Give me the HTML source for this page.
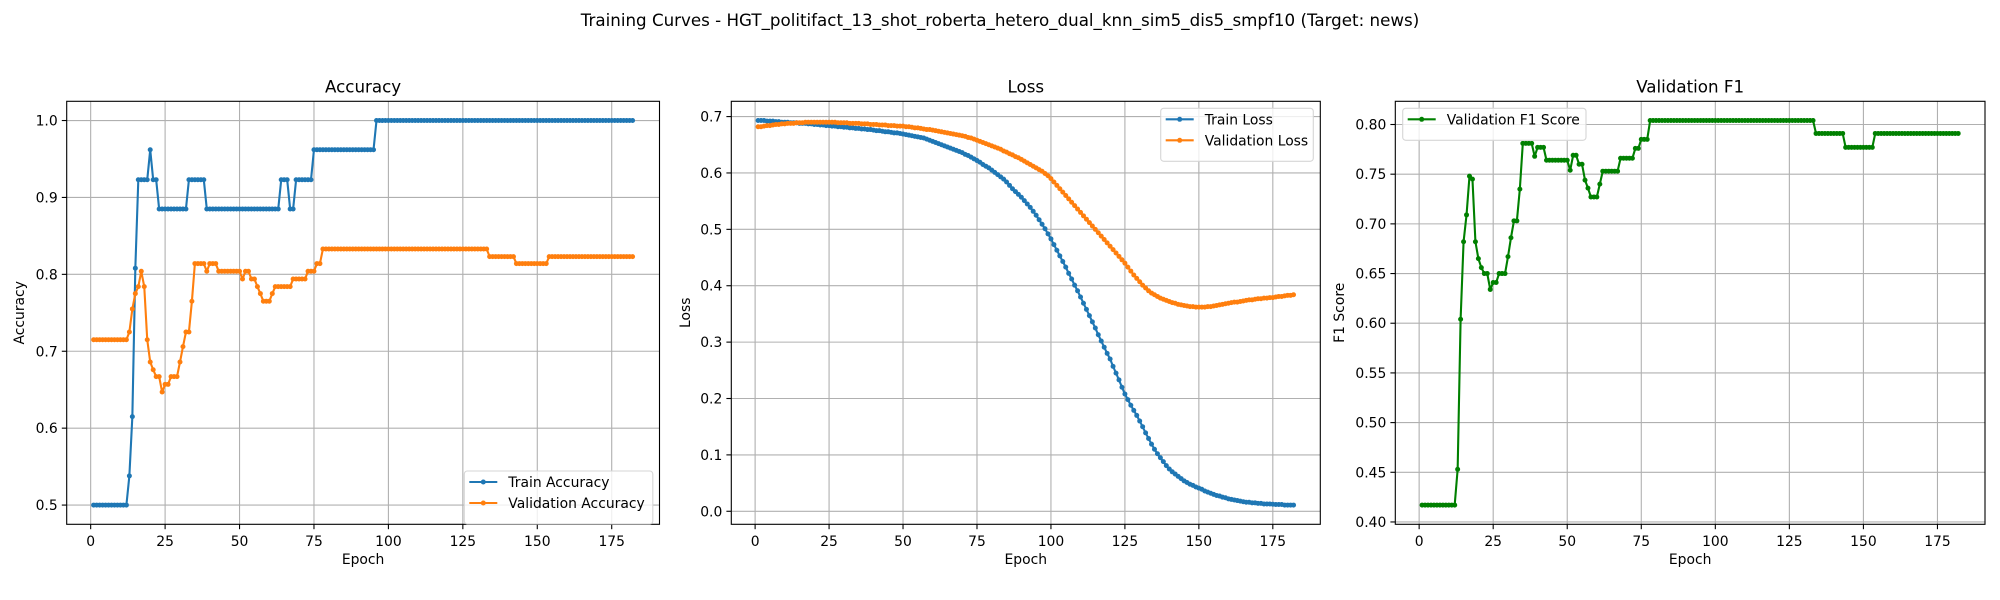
<!DOCTYPE html>
<html><head><meta charset="utf-8"><style>
html,body{margin:0;padding:0;background:#fff;}
svg{display:block;font-family:"DejaVu Sans","Liberation Sans",sans-serif;}
</style></head><body>
<svg id="fig" width="2000" height="600" viewBox="0 0 2000 600" xmlns="http://www.w3.org/2000/svg">
<rect width="2000" height="600" fill="#fff"/>
<text x="1000" y="26" text-anchor="middle" font-size="16.7">Training Curves - HGT_politifact_13_shot_roberta_hetero_dual_knn_sim5_dis5_smpf10 (Target: news)</text>
</svg>
<script>
const epochs = [];
for (let i = 1; i <= 182; i++) epochs.push(i);
const xTicks = [0, 25, 50, 75, 100, 125, 150, 175];

const trainAcc = [
0.5,0.5,0.5,0.5,0.5,0.5,0.5,0.5,0.5,0.5,
0.5,0.5,0.538,0.615,0.808,0.923,0.923,0.923,0.923,0.962,
0.923,0.923,0.885,0.885,0.885,0.885,0.885,0.885,0.885,0.885,
0.885,0.885,0.923,0.923,0.923,0.923,0.923,0.923,0.885,0.885,
0.885,0.885,0.885,0.885,0.885,0.885,0.885,0.885,0.885,0.885,
0.885,0.885,0.885,0.885,0.885,0.885,0.885,0.885,0.885,0.885,
0.885,0.885,0.885,0.923,0.923,0.923,0.885,0.885,0.923,0.923,
0.923,0.923,0.923,0.923,0.962,0.962,0.962,0.962,0.962,0.962,
0.962,0.962,0.962,0.962,0.962,0.962,0.962,0.962,0.962,0.962,
0.962,0.962,0.962,0.962,0.962,1.0,1.0,1.0,1.0,1.0,
1.0,1.0,1.0,1.0,1.0,1.0,1.0,1.0,1.0,1.0,
1.0,1.0,1.0,1.0,1.0,1.0,1.0,1.0,1.0,1.0,
1.0,1.0,1.0,1.0,1.0,1.0,1.0,1.0,1.0,1.0,
1.0,1.0,1.0,1.0,1.0,1.0,1.0,1.0,1.0,1.0,
1.0,1.0,1.0,1.0,1.0,1.0,1.0,1.0,1.0,1.0,
1.0,1.0,1.0,1.0,1.0,1.0,1.0,1.0,1.0,1.0,
1.0,1.0,1.0,1.0,1.0,1.0,1.0,1.0,1.0,1.0,
1.0,1.0,1.0,1.0,1.0,1.0,1.0,1.0,1.0,1.0,
1.0,1.0];
const valAcc = [
0.715,0.715,0.715,0.715,0.715,0.715,0.715,0.715,0.715,0.715,
0.715,0.715,0.725,0.755,0.775,0.784,0.804,0.784,0.715,0.686,
0.676,0.667,0.667,0.647,0.657,0.657,0.667,0.667,0.667,0.686,
0.706,0.725,0.725,0.765,0.814,0.814,0.814,0.814,0.804,0.814,
0.814,0.814,0.804,0.804,0.804,0.804,0.804,0.804,0.804,0.804,
0.794,0.804,0.804,0.794,0.794,0.784,0.775,0.765,0.765,0.765,
0.775,0.784,0.784,0.784,0.784,0.784,0.784,0.794,0.794,0.794,
0.794,0.794,0.804,0.804,0.804,0.814,0.814,0.833,0.833,0.833,
0.833,0.833,0.833,0.833,0.833,0.833,0.833,0.833,0.833,0.833,
0.833,0.833,0.833,0.833,0.833,0.833,0.833,0.833,0.833,0.833,
0.833,0.833,0.833,0.833,0.833,0.833,0.833,0.833,0.833,0.833,
0.833,0.833,0.833,0.833,0.833,0.833,0.833,0.833,0.833,0.833,
0.833,0.833,0.833,0.833,0.833,0.833,0.833,0.833,0.833,0.833,
0.833,0.833,0.833,0.823,0.823,0.823,0.823,0.823,0.823,0.823,
0.823,0.823,0.814,0.814,0.814,0.814,0.814,0.814,0.814,0.814,
0.814,0.814,0.814,0.823,0.823,0.823,0.823,0.823,0.823,0.823,
0.823,0.823,0.823,0.823,0.823,0.823,0.823,0.823,0.823,0.823,
0.823,0.823,0.823,0.823,0.823,0.823,0.823,0.823,0.823,0.823,
0.823,0.823];
const trainLoss = [
0.693,0.693,0.693,0.692,0.692,0.692,0.691,0.691,0.690,0.690,
0.690,0.689,0.689,0.689,0.688,0.688,0.688,0.687,0.687,0.686,
0.686,0.685,0.685,0.684,0.684,0.683,0.683,0.682,0.682,0.681,
0.681,0.680,0.680,0.679,0.679,0.678,0.678,0.677,0.677,0.676,
0.675,0.675,0.674,0.673,0.673,0.672,0.671,0.671,0.670,0.669,
0.668,0.667,0.666,0.665,0.664,0.663,0.662,0.660,0.658,0.656,
0.654,0.652,0.650,0.648,0.646,0.644,0.642,0.640,0.638,0.636,
0.633,0.631,0.628,0.625,0.622,0.619,0.615,0.612,0.609,0.605,
0.601,0.597,0.593,0.589,0.584,0.578,0.572,0.567,0.562,0.557,
0.551,0.545,0.539,0.532,0.525,0.517,0.509,0.501,0.492,0.483,
0.473,0.463,0.453,0.443,0.433,0.422,0.412,0.401,0.391,0.380,
0.369,0.358,0.347,0.336,0.325,0.313,0.302,0.291,0.280,0.270,
0.257,0.245,0.233,0.220,0.208,0.198,0.188,0.179,0.170,0.160,
0.150,0.139,0.129,0.119,0.110,0.102,0.095,0.088,0.081,0.075,
0.070,0.066,0.062,0.058,0.054,0.051,0.048,0.046,0.043,0.041,
0.039,0.036,0.034,0.032,0.030,0.028,0.027,0.025,0.024,0.022,
0.021,0.020,0.019,0.018,0.017,0.016,0.016,0.015,0.015,0.014,
0.014,0.013,0.013,0.013,0.0125,0.012,0.012,0.012,0.011,0.011,
0.011,0.011];
const valLoss = [
0.682,0.682,0.683,0.684,0.684,0.685,0.686,0.686,0.687,0.687,
0.688,0.688,0.688,0.689,0.689,0.689,0.690,0.690,0.690,0.690,
0.690,0.690,0.690,0.690,0.690,0.690,0.690,0.689,0.689,0.689,
0.689,0.688,0.688,0.688,0.688,0.687,0.687,0.687,0.686,0.686,
0.686,0.685,0.685,0.685,0.684,0.684,0.684,0.683,0.683,0.683,
0.682,0.682,0.681,0.680,0.680,0.679,0.678,0.677,0.677,0.676,
0.675,0.674,0.673,0.672,0.671,0.670,0.669,0.668,0.667,0.666,
0.665,0.663,0.662,0.660,0.658,0.656,0.654,0.652,0.650,0.648,
0.646,0.644,0.642,0.639,0.637,0.634,0.632,0.629,0.627,0.624,
0.621,0.618,0.615,0.612,0.609,0.606,0.603,0.599,0.595,0.590,
0.584,0.578,0.572,0.566,0.560,0.554,0.548,0.542,0.536,0.530,
0.524,0.518,0.512,0.506,0.500,0.494,0.488,0.482,0.476,0.470,
0.464,0.458,0.452,0.446,0.440,0.433,0.426,0.419,0.413,0.407,
0.401,0.396,0.391,0.387,0.384,0.381,0.378,0.376,0.374,0.372,
0.370,0.369,0.367,0.366,0.365,0.364,0.363,0.363,0.362,0.362,
0.362,0.362,0.363,0.363,0.364,0.365,0.366,0.367,0.368,0.369,
0.370,0.371,0.371,0.372,0.373,0.374,0.375,0.375,0.376,0.377,
0.377,0.378,0.378,0.379,0.379,0.380,0.381,0.381,0.382,0.383,
0.383,0.384];
const valF1 = [
0.417,0.417,0.417,0.417,0.417,0.417,0.417,0.417,0.417,0.417,
0.417,0.417,0.453,0.604,0.682,0.709,0.748,0.745,0.682,0.665,
0.656,0.650,0.650,0.634,0.641,0.641,0.650,0.650,0.650,0.667,
0.686,0.703,0.703,0.735,0.781,0.781,0.781,0.781,0.768,0.777,
0.777,0.777,0.764,0.764,0.764,0.764,0.764,0.764,0.764,0.764,
0.754,0.769,0.769,0.760,0.760,0.744,0.736,0.727,0.727,0.727,
0.740,0.753,0.753,0.753,0.753,0.753,0.753,0.766,0.766,0.766,
0.766,0.766,0.776,0.776,0.785,0.785,0.785,0.804,0.804,0.804,
0.804,0.804,0.804,0.804,0.804,0.804,0.804,0.804,0.804,0.804,
0.804,0.804,0.804,0.804,0.804,0.804,0.804,0.804,0.804,0.804,
0.804,0.804,0.804,0.804,0.804,0.804,0.804,0.804,0.804,0.804,
0.804,0.804,0.804,0.804,0.804,0.804,0.804,0.804,0.804,0.804,
0.804,0.804,0.804,0.804,0.804,0.804,0.804,0.804,0.804,0.804,
0.804,0.804,0.804,0.791,0.791,0.791,0.791,0.791,0.791,0.791,
0.791,0.791,0.791,0.777,0.777,0.777,0.777,0.777,0.777,0.777,
0.777,0.777,0.777,0.791,0.791,0.791,0.791,0.791,0.791,0.791,
0.791,0.791,0.791,0.791,0.791,0.791,0.791,0.791,0.791,0.791,
0.791,0.791,0.791,0.791,0.791,0.791,0.791,0.791,0.791,0.791,
0.791,0.791];
const accTicks = [0.5, 0.6, 0.7, 0.8, 0.9, 1.0];
const lossTicks = [0.0, 0.1, 0.2, 0.3, 0.4, 0.5, 0.6, 0.7];
const f1Ticks = [0.40, 0.45, 0.50, 0.55, 0.60, 0.65, 0.70, 0.75, 0.80];

const NS = "http://www.w3.org/2000/svg";
const svg = document.getElementById("fig");
function mk(tag, attrs, parent) {
  const e = document.createElementNS(NS, tag);
  for (const k in attrs) e.setAttribute(k, attrs[k]);
  (parent || svg).appendChild(e);
  return e;
}
function ext(arrs) {
  let lo = Infinity, hi = -Infinity;
  arrs.forEach(a => a.forEach(v => { if (v < lo) lo = v; if (v > hi) hi = v; }));
  const m = (hi - lo) * 0.05;
  return [lo - m, hi + m];
}

function panel(cfg) {
  const g = mk("g", {});
  
  
  const L = cfg.left, R = cfg.right, T = 101.3, B = 524.3;
  const xr = ext([epochs]);
  const yr = ext(cfg.series.map(s => s.data));
  const sx = v => L + (v - xr[0]) / (xr[1] - xr[0]) * (R - L);
  const sy = v => B - (v - yr[0]) / (yr[1] - yr[0]) * (B - T);
  // grid
  xTicks.forEach(t => {
    const x = sx(t);
    const l = mk("line", {x1: x, x2: x, y1: T, y2: B, stroke: "#b0b0b0", "stroke-width": 1.1}, g);
    
    
    const tk = mk("line", {x1: x, x2: x, y1: B, y2: B + 4.9, stroke: "#000", "stroke-width": 1.1}, g);
    
    
    const tx = mk("text", {x: x, y: B + 21.5, "text-anchor": "middle", "font-size": 13.9}, g);
    tx.textContent = String(t);
    
    
  });
  cfg.ticks.forEach(t => {
    const y = sy(t);
    const l = mk("line", {x1: L, x2: R, y1: y, y2: y, stroke: "#b0b0b0", "stroke-width": 1.1}, g);
    
    
    const tk = mk("line", {x1: L - 4.9, x2: L, y1: y, y2: y, stroke: "#000", "stroke-width": 1.1}, g);
    
    
    const tx = mk("text", {x: L - 9, y: y + 5, "text-anchor": "end", "font-size": 13.9}, g);
    tx.textContent = t.toFixed(cfg.dec);
    
    
  });
  // series
  cfg.series.forEach(s => {
    const sg = mk("g", {}, g);
    
    
    const pts = s.data.map((v, i) => sx(epochs[i]).toFixed(2) + "," + sy(v).toFixed(2)).join(" ");
    const pl = mk("polyline", {points: pts, fill: "none", stroke: s.color, "stroke-width": 2.1, "stroke-linejoin": "round"}, sg);
    
    
    s.data.forEach((v, i) => {
      const c = mk("circle", {cx: sx(epochs[i]), cy: sy(v), r: 2.5, fill: s.color}, sg);
      
      
    });
  });
  // frame
  const fr = mk("rect", {x: L, y: T, width: R - L, height: B - T, fill: "none", stroke: "#000", "stroke-width": 1.1}, g);
  
  
  const ti = mk("text", {x: (L + R) / 2, y: 92.5, "text-anchor": "middle", "font-size": 16.7}, g);
  ti.textContent = cfg.title;
  
  
  const xl = mk("text", {x: (L + R) / 2, y: 564, "text-anchor": "middle", "font-size": 13.9}, g);
  xl.textContent = "Epoch";
  
  
  const yl = mk("text", {x: cfg.ylx, y: (T + B) / 2, "text-anchor": "middle", "font-size": 13.9, transform: "rotate(-90 " + cfg.ylx + " " + ((T + B) / 2) + ")"}, g);
  yl.textContent = cfg.ylabel;
  
  
  // legend
  const lg = cfg.legend;
  const lgg = mk("g", {}, g);
  
  
  mk("rect", {x: lg.x, y: lg.y, width: lg.w, height: 11 + 21 * cfg.series.length, rx: 3, fill: "#fff", "fill-opacity": 0.8, stroke: "#d6d6d6", "stroke-width": 1.1}, lgg);
  cfg.series.forEach((s, i) => {
    const yy = lg.y + 11 + 21 * i;
    const eg = mk("g", {}, lgg);
    
    
    mk("line", {x1: lg.x + 5, x2: lg.x + 33, y1: yy, y2: yy, stroke: s.color, "stroke-width": 2.1}, eg);
    mk("circle", {cx: lg.x + 19, cy: yy, r: 2.5, fill: s.color}, eg);
    const t = mk("text", {x: lg.x + 44, y: yy + 5, "font-size": 13.9}, eg);
    t.textContent = s.label;
  });
}

panel({name: "accuracy-panel", left: 66.7, right: 659.5, title: "Accuracy", ylabel: "Accuracy", ylx: 24, ticks: accTicks, dec: 1,
  series: [{id: "train-accuracy", label: "Train Accuracy", data: trainAcc, color: "#1f77b4"},
           {id: "validation-accuracy", label: "Validation Accuracy", data: valAcc, color: "#ff7f0e"}],
  legend: {x: 464.3, y: 471, w: 188.5}});
panel({name: "loss-panel", left: 731.3, right: 1320.3, title: "Loss", ylabel: "Loss", ylx: 690, ticks: lossTicks, dec: 1,
  series: [{id: "train-loss", label: "Train Loss", data: trainLoss, color: "#1f77b4"},
           {id: "validation-loss", label: "Validation Loss", data: valLoss, color: "#ff7f0e"}],
  legend: {x: 1160.7, y: 108.3, w: 152.6}});
panel({name: "f1-panel", left: 1395.3, right: 1985, title: "Validation F1", ylabel: "F1 Score", ylx: 1344, ticks: f1Ticks, dec: 2,
  series: [{id: "validation-f1", label: "Validation F1 Score", data: valF1, color: "#008000"}],
  legend: {x: 1402.7, y: 108.3, w: 183.3}});
</script>
</body></html>
